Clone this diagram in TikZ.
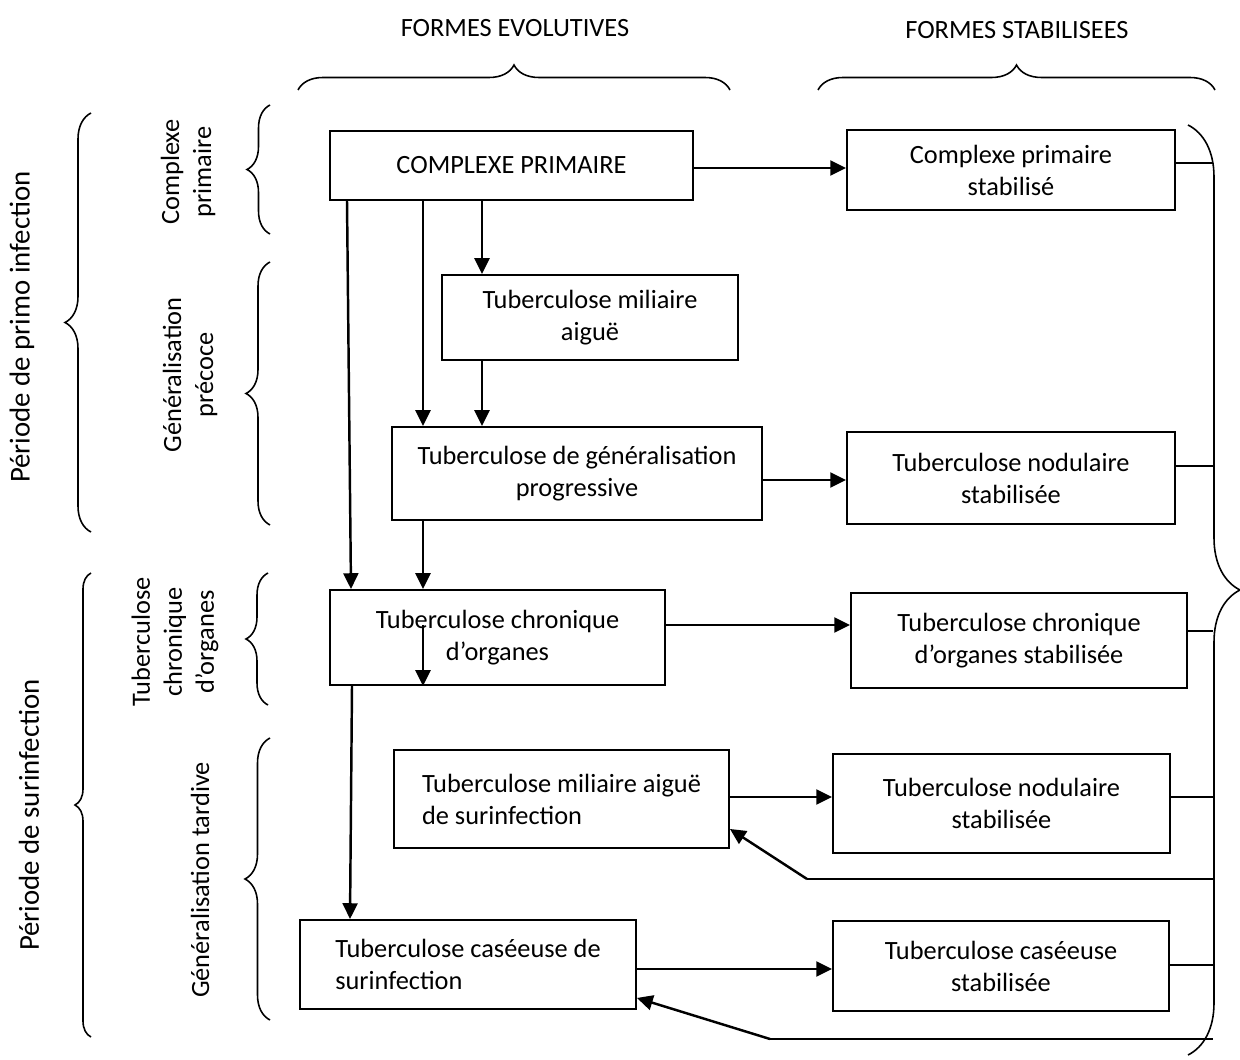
\documentclass[tikz,border=0pt]{standalone}
\usepackage{fontspec}
\setmainfont{Carlito}
\usetikzlibrary{arrows.meta,decorations.pathreplacing}
\tikzset{
  box/.style={draw,line width=1.1pt,inner sep=0pt,align=center},
  arr/.style={line width=1.4pt,-{Triangle[length=9pt,width=8.5pt]}},
  link/.style={line width=0.6pt},
  curly/.style={decorate,line width=0.9pt,decoration={brace,amplitude=#1}},
  period/.style={rotate=90,font=\fontsize{16.4}{20}\selectfont},
  phase/.style={rotate=90,align=center}
}
\begin{document}
\begin{tikzpicture}[x=0.02cm,y=-0.02cm,font=\fontsize{15}{18.2}\selectfont]
\useasboundingbox (0,0) rectangle (1240,1060);
\node (evol) at (515,28) {FORMES EVOLUTIVES};
\node (stab) at (1017,30) {FORMES STABILISEES};
\draw[curly=0.5cm] (298,90) -- (730,90);
\draw[curly=0.5cm] (818,90) -- (1215,90);
\node[period] (lprimo) at (22,327) {Période de primo infection};
\node[period] (lsurinf) at (29,815) {Période de surinfection};
\draw[curly=0.52cm] (91,532) -- (91,113);
\draw[curly=0.32cm] (91,1037) -- (91,573);
\node[phase] (lcp) at (188,172) {Complexe\\primaire};
\node[phase] (lprec) at (190,375) {Généralisation\\précoce};
\node[phase] (lchron) at (175,642) {Tuberculose\\chronique\\d’organes};
\node[phase] (ltard) at (200,880) {Généralisation tardive};
\draw[curly=0.46cm] (270,234) -- (270,105);
\draw[curly=0.48cm] (270,525) -- (270,262);
\draw[curly=0.44cm] (268,705) -- (268,573);
\draw[curly=0.5cm] (270,1020) -- (270,738);
\draw[curly=1.04cm] (1188,125) -- (1188,1055);
\node[box,minimum width=7.26cm,minimum height=1.38cm] (cp) at (511.5,165.5) {COMPLEXE PRIMAIRE};
\node[box,minimum width=6.56cm,minimum height=1.60cm] (cps) at (1011,170) {Complexe primaire\\stabilisé};
\node[box,minimum width=5.92cm,minimum height=1.70cm] (tma) at (590,317.5) {Tuberculose miliaire\\aiguë};
\node[box,minimum width=7.40cm,minimum height=1.86cm] (tgp) at (577,473.5) {Tuberculose de généralisation\\progressive};
\node[box,minimum width=6.56cm,minimum height=1.84cm] (tns1) at (1011,478) {Tuberculose nodulaire\\stabilisée};
\node[box,minimum width=6.70cm,minimum height=1.90cm] (tco) at (497.5,637.5) {Tuberculose chronique\\d’organes};
\node[box,minimum width=6.72cm,minimum height=1.90cm] (tcos) at (1019,640.5) {Tuberculose chronique\\d’organes stabilisée};
\node[box,align=left,minimum width=6.70cm,minimum height=1.96cm] (tmas) at (561.5,799) {Tuberculose miliaire aiguë\\de surinfection};
\node[box,minimum width=6.74cm,minimum height=1.98cm] (tns2) at (1001.5,803.5) {Tuberculose nodulaire\\stabilisée};
\node[box,align=left,minimum width=6.72cm,minimum height=1.78cm] (tcs) at (468,964.5) {Tuberculose caséeuse de\\surinfection};
\node[box,minimum width=6.72cm,minimum height=1.80cm] (tcss) at (1001,966) {Tuberculose caséeuse\\stabilisée};
\coordinate (ka) at (347,0);
\coordinate (kb) at (351,0);
\coordinate (kc) at (352,0);
\coordinate (kd) at (350,0);
\coordinate (kx) at (423,0);
\coordinate (ky) at (482,0);
\coordinate (rb) at (1213,0);
\coordinate (y1) at (0,168);
\coordinate (y2) at (0,480);
\coordinate (y3) at (0,625);
\coordinate (y4) at (0,797);
\coordinate (y5) at (0,969);
\coordinate (b1) at (0,163);
\coordinate (b2) at (0,466);
\coordinate (b3) at (0,631);
\coordinate (b4) at (0,797);
\coordinate (b5) at (0,965);
\coordinate (f1) at (807,879);
\coordinate (f2) at (770,1039);
\draw[arr] (cp.east |- y1) -- (cps.west |- y1);
\draw[arr] (cp.south -| ky) -- (tma.north -| ky);
\draw[arr] (cp.south -| kx) -- (tgp.north -| kx);
\draw[arr] (cp.south -| ka) -- (tco.north -| kb);
\draw[arr] (tma.south -| ky) -- (tgp.north -| ky);
\draw[arr] (tgp.south -| kx) -- (tco.north -| kx);
\draw[arr] (tgp.east |- y2) -- (tns1.west |- y2);
\draw[arr] (tco.east |- y3) -- (tcos.west |- y3);
\draw[arr] (kx |- y3) -- (tco.south -| kx);
\draw[arr] (tco.south -| kc) -- (tcs.north -| kd);
\draw[arr] (tmas.east |- y4) -- (tns2.west |- y4);
\draw[arr] (tcs.east |- y5) -- (tcss.west |- y5);
\draw[arr] (f1) -- ([yshift=0.4cm]tmas.south east);
\draw[arr] (f2) -- ([yshift=0.24cm]tcs.south east);
\draw[link] (cps.east |- b1) -- (rb |- b1);
\draw[link] (tns1.east |- b2) -- (rb |- b2);
\draw[link] (tcos.east |- b3) -- (rb |- b3);
\draw[link] (tns2.east |- b4) -- (rb |- b4);
\draw[link] (tcss.east |- b5) -- (rb |- b5);
\draw[link] (f1) -- (rb |- f1);
\draw[link] (f2) -- (rb |- f2);
\end{tikzpicture}
\end{document}
